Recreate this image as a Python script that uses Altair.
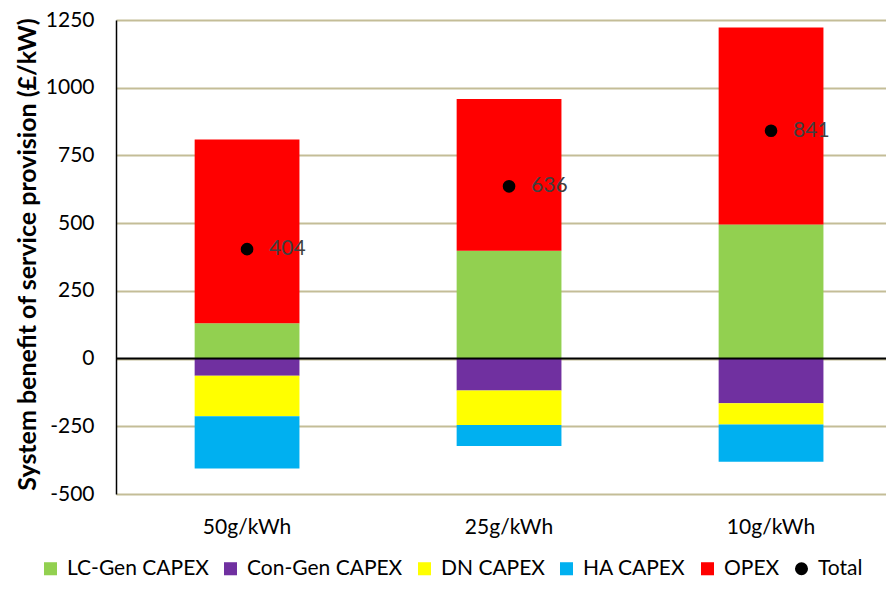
import altair as alt
import pandas as pd

# scenarios and stacked components (GBP/kW)
categories = ["50g/kWh", "25g/kWh", "10g/kWh"]
series = ["LC-Gen CAPEX", "Con-Gen CAPEX", "DN CAPEX", "HA CAPEX", "OPEX"]
lc_gen = [130, 398, 495]
con_gen = [-63, -118, -165]
dn_capex = [-150, -127, -78]
ha_capex = [-193, -78, -138]
opex = [679, 560, 727]
totals = [404, 636, 841]

colors = ["#92D050", "#7030A0", "#FFFF00", "#00B0F0", "#FF0000", "#000000"]

rows = []
for k, (name, vals) in enumerate(zip(series, [lc_gen, con_gen, dn_capex, ha_capex, opex])):
    for cat, v in zip(categories, vals):
        rows.append({"scenario": cat, "series": name, "value": v, "order": k})
bars_df = pd.DataFrame(rows)
tot_df = pd.DataFrame({"scenario": categories, "value": totals, "series": ["Total"] * 3})

legend_domain = series + ["Total"]
color_scale = alt.Scale(domain=legend_domain, range=colors)
shape_scale = alt.Scale(domain=legend_domain, range=["square"] * 5 + ["circle"])

# plot is cut at the right edge in the original, so bands are shifted with align
x_enc = alt.X(
    "scenario:N",
    sort=categories,
    scale=alt.Scale(paddingInner=0.6, paddingOuter=0.2695, align=0.557),
    axis=alt.Axis(title=None, labelAngle=0, domain=False, ticks=False,
                  labelPadding=22, labelFontSize=21, labelColor="black"),
)

y_scale = alt.Scale(domain=[-500, 1250], nice=False)
y_axis = alt.Axis(
    title="System benefit of service provision (£/kW)",
    values=list(range(-500, 1251, 250)),
    labelExpr="'' + datum.value",
    grid=True, gridColor="#C4BD97", gridWidth=2,
    domainColor="black", domainWidth=1.5,
    ticks=False, labelPadding=22, labelFontSize=21, labelColor="black",
    titleFontSize=25, titleFontWeight="bold", titleColor="black", titlePadding=5,
    titleY=234,
)
y_enc = alt.Y("value:Q", scale=y_scale, axis=y_axis)

leg = alt.Legend(
    title=None, orient="none", legendX=-76, legendY=538, direction="horizontal",
    columns=6, labelFontSize=21, labelColor="black", symbolSize=170,
    symbolStrokeWidth=0, columnPadding=11, labelOffset=6,
)

bars = (
    alt.Chart(bars_df)
    .mark_bar()
    .encode(
        x=x_enc,
        y=alt.Y("value:Q", scale=y_scale, axis=y_axis, stack="zero"),
        color=alt.Color("series:N", scale=color_scale, legend=leg),
        order=alt.Order("order:Q"),
    )
)

zero = (
    alt.Chart(pd.DataFrame({"value": [0]}))
    .mark_rule(color="black", strokeWidth=2)
    .encode(y=y_enc)
)

points = (
    alt.Chart(tot_df)
    .mark_point(filled=True, size=160, opacity=1)
    .encode(
        x=x_enc,
        y=y_enc,
        color=alt.Color("series:N", scale=color_scale, legend=leg),
        shape=alt.Shape("series:N", scale=shape_scale, legend=leg),
    )
)

labels = (
    alt.Chart(tot_df)
    .mark_text(align="left", dx=22, fontSize=21, color="#404040")
    .encode(x=x_enc, y=y_enc, text="value:Q")
)

chart = (
    alt.layer(bars, zero, points, labels)
    .properties(width=770, height=474, autosize="none",
                padding={"left": 108, "top": 12, "right": 0, "bottom": 87})
    .configure(font="Lato")
    .configure_view(stroke=None)
)

chart.save("out.html", embed_options={"renderer": "svg", "actions": False})
